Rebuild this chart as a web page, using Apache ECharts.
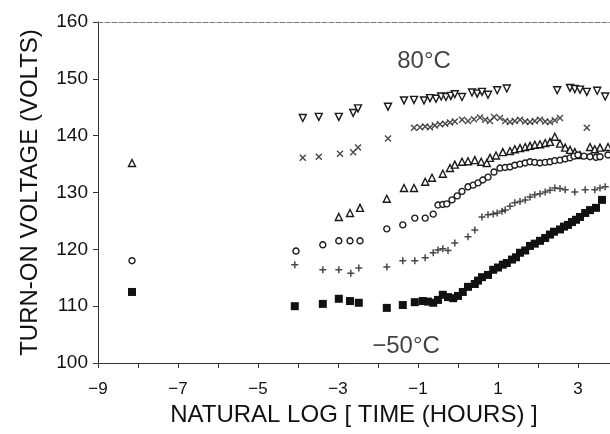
<!DOCTYPE html>
<html>
<head>
<meta charset="utf-8">
<script src="https://cdn.jsdelivr.net/npm/echarts@6/dist/echarts.min.js"></script>
<style>
  html, body { margin: 0; padding: 0; background: #fff; }
  #chart { width: 610px; height: 434px; }
</style>
</head>
<body>
<div id="chart"></div>
<script>
// 80°C : inverted triangles
const triDown = [[-3.88,143.1],[-3.48,143.3],[-2.98,143.3],[-2.62,144.0],[-2.5,144.8],[-1.75,145.1],[-1.35,146.2],[-1.1,146.3],[-0.85,146.2],[-0.7,146.6],[-0.55,146.5],[-0.42,146.9],[-0.3,146.8],[-0.18,147.0],[-0.08,147.3],[0.1,146.8],[0.35,147.6],[0.48,147.4],[0.6,147.7],[0.75,147.2],[0.98,148.0],[1.22,148.3],[2.48,148.0],[2.8,148.4],[2.92,148.2],[3.05,148.1],[3.22,147.7],[3.48,147.9],[3.68,146.9]];
const crosses = [[-3.88,136.1],[-3.48,136.3],[-2.95,136.8],[-2.62,137.1],[-2.5,137.9],[-1.75,139.5],[-1.1,141.4],[-0.95,141.5],[-0.82,141.6],[-0.7,141.5],[-0.58,141.8],[-0.45,142.0],[-0.32,142.1],[-0.2,142.3],[-0.08,142.5],[0.1,142.8],[0.25,142.6],[0.4,142.9],[0.55,143.2],[0.68,142.8],[0.8,142.6],[0.9,143.3],[1.05,143.1],[1.18,142.6],[1.3,142.4],[1.42,142.6],[1.55,142.8],[1.68,142.5],[1.8,142.4],[1.92,142.6],[2.05,142.8],[2.18,142.5],[2.3,142.4],[2.42,142.7],[2.55,143.1],[3.22,141.4]];
const triUp = [[-8.15,135.2],[-2.98,125.7],[-2.7,126.4],[-2.45,127.3],[-1.78,128.9],[-1.35,130.8],[-1.1,130.8],[-0.82,131.9],[-0.65,132.6],[-0.38,133.3],[-0.2,134.3],[-0.08,134.9],[0.1,135.4],[0.25,135.5],[0.42,135.7],[0.58,135.4],[0.72,135.2],[0.8,136.1],[0.95,136.5],[1.12,137.1],[1.3,137.3],[1.42,137.6],[1.55,137.8],[1.68,138.0],[1.8,138.2],[1.92,138.4],[2.05,138.5],[2.18,138.7],[2.3,138.9],[2.42,139.8],[2.55,138.6],[2.68,137.9],[2.8,137.5],[2.92,137.1],[3.05,136.6],[3.3,138.0],[3.42,137.6],[3.55,137.9],[3.75,138.0]];
const circles = [[-8.15,118.0],[-4.05,119.7],[-3.38,120.8],[-2.98,121.5],[-2.7,121.5],[-2.45,121.5],[-1.78,123.6],[-1.38,124.3],[-1.08,125.5],[-0.82,125.5],[-0.62,126.2],[-0.5,127.8],[-0.38,127.9],[-0.28,128.0],[-0.15,128.7],[-0.02,129.4],[0.1,130.2],[0.25,131.0],[0.38,131.3],[0.5,131.7],[0.62,132.2],[0.75,132.7],[0.9,133.6],[1.05,134.3],[1.18,134.4],[1.3,134.5],[1.42,134.8],[1.55,135.0],[1.68,135.2],[1.8,135.4],[1.92,135.3],[2.05,135.2],[2.18,135.3],[2.3,135.4],[2.42,135.6],[2.55,135.7],[2.68,135.9],[2.8,136.1],[2.9,136.4],[3.0,136.6],[3.15,136.4],[3.3,136.3],[3.45,136.2],[3.55,136.3],[3.75,136.6]];
const pluses = [[-4.08,117.3],[-3.38,116.4],[-2.98,116.4],[-2.68,115.8],[-2.48,116.7],[-1.78,116.9],[-1.38,118.0],[-1.08,118.0],[-0.82,118.5],[-0.62,119.4],[-0.5,119.9],[-0.38,120.1],[-0.25,119.8],[-0.08,121.1],[0.25,122.2],[0.42,123.4],[0.6,125.7],[0.75,126.1],[0.88,126.2],[0.98,126.4],[1.1,126.7],[1.18,126.9],[1.3,127.6],[1.42,128.2],[1.55,128.4],[1.68,128.7],[1.8,129.2],[1.92,129.6],[2.05,129.8],[2.18,130.1],[2.3,130.4],[2.42,130.8],[2.55,130.7],[2.68,130.5],[2.92,130.1],[3.18,130.5],[3.42,130.5],[3.55,130.8],[3.68,131.0]];
// -50°C : filled squares
const squares = [[-8.15,112.5],[-4.08,110.0],[-3.38,110.4],[-2.98,111.3],[-2.7,110.9],[-2.48,110.6],[-1.78,109.7],[-1.38,110.2],[-1.08,110.7],[-0.88,110.9],[-0.75,110.8],[-0.62,110.6],[-0.5,111.1],[-0.38,112.0],[-0.25,111.6],[-0.12,111.4],[0.0,111.8],[0.12,112.5],[0.25,113.4],[0.42,113.9],[0.5,114.5],[0.6,115.1],[0.75,115.5],[0.88,116.4],[1.0,116.8],[1.12,117.3],[1.22,117.6],[1.35,118.2],[1.45,118.6],[1.55,119.4],[1.68,119.8],[1.8,120.6],[1.92,121.0],[2.05,121.5],[2.18,122.0],[2.3,122.6],[2.4,123.1],[2.55,123.5],[2.65,124.0],[2.75,124.3],[2.85,124.8],[2.95,125.2],[3.05,125.7],[3.18,126.4],[3.3,126.9],[3.45,127.3],[3.6,128.7]];
// annotations [x, y, text]
const notes = [[-0.85,153.0,'80°C'],[-1.3,103.0,'\u221250°C']];

const xName = 'NATURAL LOG [ TIME (HOURS) ]';
const yName = 'TURN-ON VOLTAGE (VOLTS)';

const font = 'Liberation Sans, Arial, sans-serif';
const ink = '#111';

function markSeries(data, symbol, size, filled, extra) {
    return Object.assign({
        type: 'scatter',
        data: data,
        symbol: symbol,
        symbolSize: size,
        itemStyle: {
            color: filled ? ink : '#fff',
            borderColor: '#1a1a1a',
            borderWidth: filled ? 0 : 1.4,
            opacity: 1
        },
        z: 3
    }, extra || {});
}

let chartDom = document.getElementById('chart');
let chart = echarts.init(chartDom, null, { renderer: 'canvas' });
let option = {
    animation: false,
    grid: { left: 98, right: 0, top: 22, bottom: 71 },
    xAxis: [{
        type: 'value',
        min: -9,
        max: 3.8,
        interval: 1,
        name: xName,
        nameLocation: 'middle',
        nameGap: 30,
        nameTextStyle: { fontFamily: font, fontSize: 24, color: ink },
        axisLine: { onZero: false, lineStyle: { color: '#333', width: 1 } },
        axisTick: { length: 5, lineStyle: { color: '#333' } },
        axisLabel: {
            margin: 18,
            fontFamily: font,
            fontSize: 17,
            color: ink,
            showMaxLabel: false,
            formatter: function (v) {
                if (Math.round(v) !== v || Math.abs(v) % 2 !== 1) return '';
                return v < 0 ? '\u2212' + Math.abs(v) : String(v);
            }
        },
        splitLine: { show: false }
    }, {
        type: 'value',
        position: 'top',
        min: -9,
        max: 3.8,
        axisLine: { show: true, onZero: false, lineStyle: { color: '#777', type: [5, 2], width: 1 } },
        axisTick: { show: false },
        axisLabel: { show: false },
        splitLine: { show: false }
    }],
    yAxis: {
        type: 'value',
        min: 100,
        max: 160,
        interval: 10,
        name: yName,
        nameLocation: 'middle',
        nameGap: 56,
        nameTextStyle: { fontFamily: font, fontSize: 24, color: ink },
        axisLine: { show: true, onZero: false, lineStyle: { color: '#333', width: 1 } },
        axisTick: { length: 5, lineStyle: { color: '#333' } },
        axisLabel: { margin: 10, fontFamily: font, fontSize: 19, color: ink },
        splitLine: { show: false }
    },
    series: [
        markSeries(triDown, 'triangle', 7, false, { symbolRotate: 180 }),
        markSeries(crosses, 'path://M0,0L10,10M10,0L0,10', 6, false, { itemStyle: { color: 'none', borderColor: '#1a1a1a', borderWidth: 1.4 } }),
        markSeries(triUp, 'triangle', 7, false),
        markSeries(circles, 'circle', 6, false),
        markSeries(pluses, 'path://M5,0L5,10M0,5L10,5', 7, false, { itemStyle: { color: 'none', borderColor: '#1a1a1a', borderWidth: 1.5 } }),
        markSeries(squares, 'rect', 8, true),
        {
            type: 'scatter',
            data: notes,
            symbolSize: 1,
            itemStyle: { color: 'rgba(0,0,0,0)' },
            label: {
                show: true,
                position: 'inside',
                formatter: function (p) { return p.value[2]; },
                fontFamily: font,
                fontSize: 24,
                color: ink
            },
            z: 4
        }
    ]
};
chart.setOption(option);
window.addEventListener('resize', () => {
    chart.resize();
});
</script>
</body>
</html>
